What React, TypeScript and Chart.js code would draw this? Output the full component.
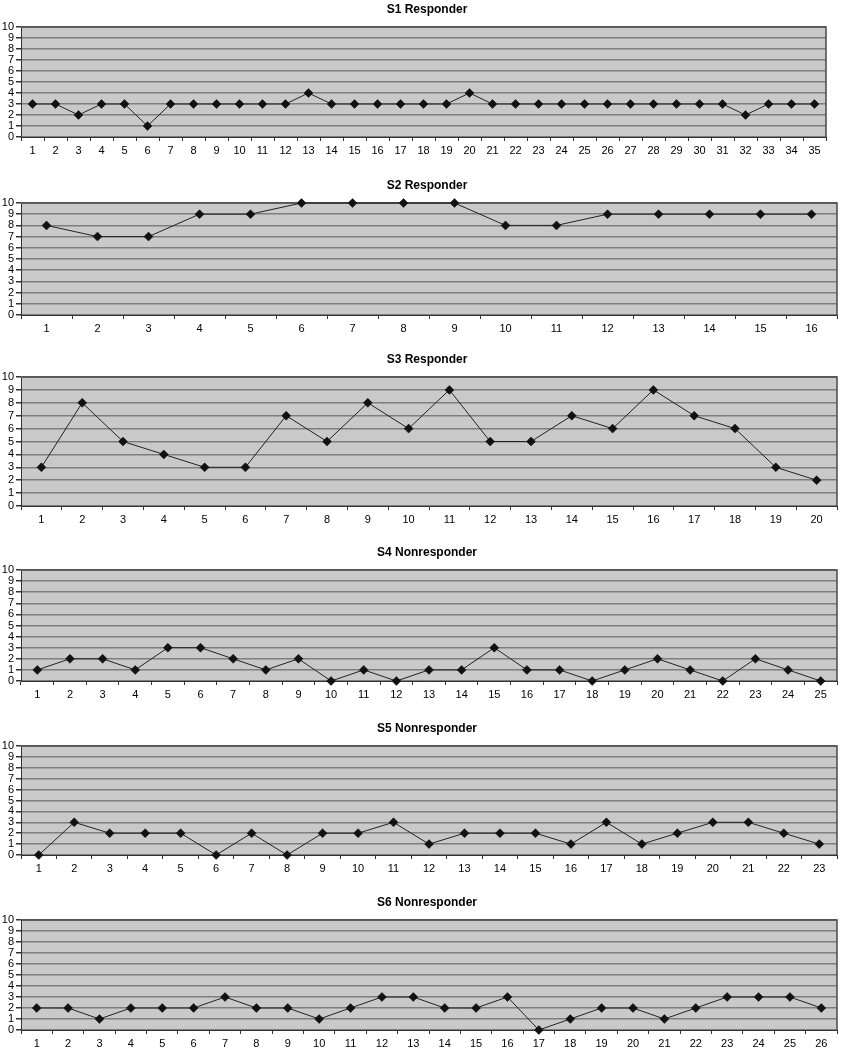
import React, { useEffect, useRef } from "react";
import { Chart, registerables } from "chart.js";

Chart.register(...registerables);

const s1Values = [3, 3, 2, 3, 3, 1, 3, 3, 3, 3, 3, 3, 4, 3, 3, 3, 3, 3, 3, 4, 3, 3, 3, 3, 3, 3, 3, 3, 3, 3, 3, 2, 3, 3, 3];
const s2Values = [8, 7, 7, 9, 9, 10, 10, 10, 10, 8, 8, 9, 9, 9, 9, 9];
const s3Values = [3, 8, 5, 4, 3, 3, 7, 5, 8, 6, 9, 5, 5, 7, 6, 9, 7, 6, 3, 2];
const s4Values = [1, 2, 2, 1, 3, 3, 2, 1, 2, 0, 1, 0, 1, 1, 3, 1, 1, 0, 1, 2, 1, 0, 2, 1, 0];
const s5Values = [0, 3, 2, 2, 2, 0, 2, 0, 2, 2, 3, 1, 2, 2, 2, 1, 3, 1, 2, 3, 3, 2, 1];
const s6Values = [2, 2, 1, 2, 2, 2, 3, 2, 2, 1, 2, 3, 3, 2, 2, 3, 0, 1, 2, 2, 1, 2, 3, 3, 3, 2];

const titles = ["S1 Responder", "S2 Responder", "S3 Responder", "S4 Nonresponder", "S5 Nonresponder", "S6 Nonresponder"];
const yMin = 0;
const yMax = 10;

const makeLabels = (n: number) => Array.from({ length: n }, (_, i) => String(i + 1));

const REGULAR = "'Liberation Sans', Arial, sans-serif";
const NARROW = "'Liberation Sans Narrow', 'Liberation Sans', Arial, sans-serif";

// layout (pixel geometry of each panel)
const panels = [
  { title: titles[0], values: s1Values, plotTop: 27, plotBottom: 137, right: 826, font: REGULAR },
  { title: titles[1], values: s2Values, plotTop: 203, plotBottom: 315, right: 837, font: NARROW },
  { title: titles[2], values: s3Values, plotTop: 377, plotBottom: 506, right: 837, font: NARROW },
  { title: titles[3], values: s4Values, plotTop: 570, plotBottom: 681, right: 837, font: REGULAR },
  { title: titles[4], values: s5Values, plotTop: 746, plotBottom: 855, right: 837, font: REGULAR },
  { title: titles[5], values: s6Values, plotTop: 920, plotBottom: 1030, right: 837, font: REGULAR },
];

const W = 845;
const TOP_SPACE = 27;
const BOTTOM_SPACE = 24;
const PLOT_LEFT = 21;

const panelPlugin = {
  id: "panelDeco",
  beforeDraw(chart: any) {
    const { ctx, chartArea } = chart;
    ctx.save();
    ctx.fillStyle = "#c9c9c9";
    ctx.fillRect(chartArea.left, chartArea.top, chartArea.right - chartArea.left, chartArea.bottom - chartArea.top);
    ctx.restore();
  },
  beforeDatasetsDraw(chart: any) {
    const { ctx, chartArea } = chart;
    ctx.save();
    ctx.strokeStyle = "#4a4a4a";
    ctx.lineWidth = 1.5;
    ctx.beginPath();
    ctx.moveTo(chartArea.left, chartArea.top);
    ctx.lineTo(chartArea.right, chartArea.top);
    ctx.lineTo(chartArea.right, chartArea.bottom);
    ctx.stroke();
    ctx.restore();
  },
  afterDraw(chart: any, _args: any, opts: any) {
    const { ctx, chartArea } = chart;
    ctx.save();
    ctx.fillStyle = "#000";
    ctx.font = `bold 12px ${opts.font}`;
    ctx.textAlign = "center";
    ctx.textBaseline = "middle";
    ctx.fillText(opts.text, 427, chartArea.top - 17);
    ctx.restore();
  },
};

function Panel({ p }: { p: (typeof panels)[number] }) {
  const ref = useRef<HTMLCanvasElement | null>(null);
  const h = p.plotBottom - p.plotTop + TOP_SPACE + BOTTOM_SPACE;
  useEffect(() => {
    if (!ref.current) return;
    const chart = new Chart(ref.current, {
      type: "line",
      data: {
        labels: makeLabels(p.values.length),
        datasets: [
          {
            data: p.values,
            borderColor: "#222",
            borderWidth: 1,
            backgroundColor: "#111",
            pointStyle: "rectRot",
            pointRadius: 4.5,
            pointHoverRadius: 4.5,
            pointBackgroundColor: "#111",
            pointBorderColor: "#111",
            pointBorderWidth: 0.5,
            tension: 0,
            fill: false,
            clip: false as any,
          },
        ],
      },
      options: {
        responsive: false,
        animation: false,
        events: [],
        layout: { padding: { top: TOP_SPACE, left: 0, right: W - p.right, bottom: 0 } },
        plugins: {
          legend: { display: false },
          title: { display: false },
          tooltip: { enabled: false },
          panelDeco: { text: p.title, font: p.font },
        } as any,
        scales: {
          x: {
            type: "category",
            offset: true,
            grid: {
              offset: true,
              drawOnChartArea: false,
              drawTicks: true,
              tickLength: 4,
              tickColor: "#333",
            },
            border: { display: true, color: "#333", width: 1 },
            ticks: {
              color: "#000",
              font: { size: 11, family: p.font },
              padding: 3,
              maxRotation: 0,
              minRotation: 0,
              autoSkip: false,
            },
            afterFit: (scale: any) => {
              scale.height = BOTTOM_SPACE;
            },
          },
          y: {
            min: yMin,
            max: yMax,
            grid: {
              color: "#7e7e7e",
              lineWidth: 1.5,
              tickColor: "#333",
              tickLength: 5,
              drawTicks: true,
            },
            border: { display: true, color: "#333", width: 1 },
            ticks: {
              stepSize: 1,
              autoSkip: false,
              color: "#000",
              font: { size: 11, family: p.font, lineHeight: 1 },
              padding: 2,
            },
            afterFit: (scale: any) => {
              scale.width = PLOT_LEFT;
            },
          },
        },
      },
      plugins: [panelPlugin],
    });
    return () => chart.destroy();
  }, []);
  return (
    <canvas
      ref={ref}
      width={W}
      height={h}
      style={{ position: "absolute", left: 0, top: p.plotTop - TOP_SPACE, width: W, height: h, display: "block" }}
    />
  );
}

export default function App() {
  return (
    <div style={{ position: "absolute", left: 0, top: 0, width: W, height: 1050, background: "#fff" }}>
      {panels.map((p, i) => (
        <Panel key={i} p={p} />
      ))}
    </div>
  );
}
